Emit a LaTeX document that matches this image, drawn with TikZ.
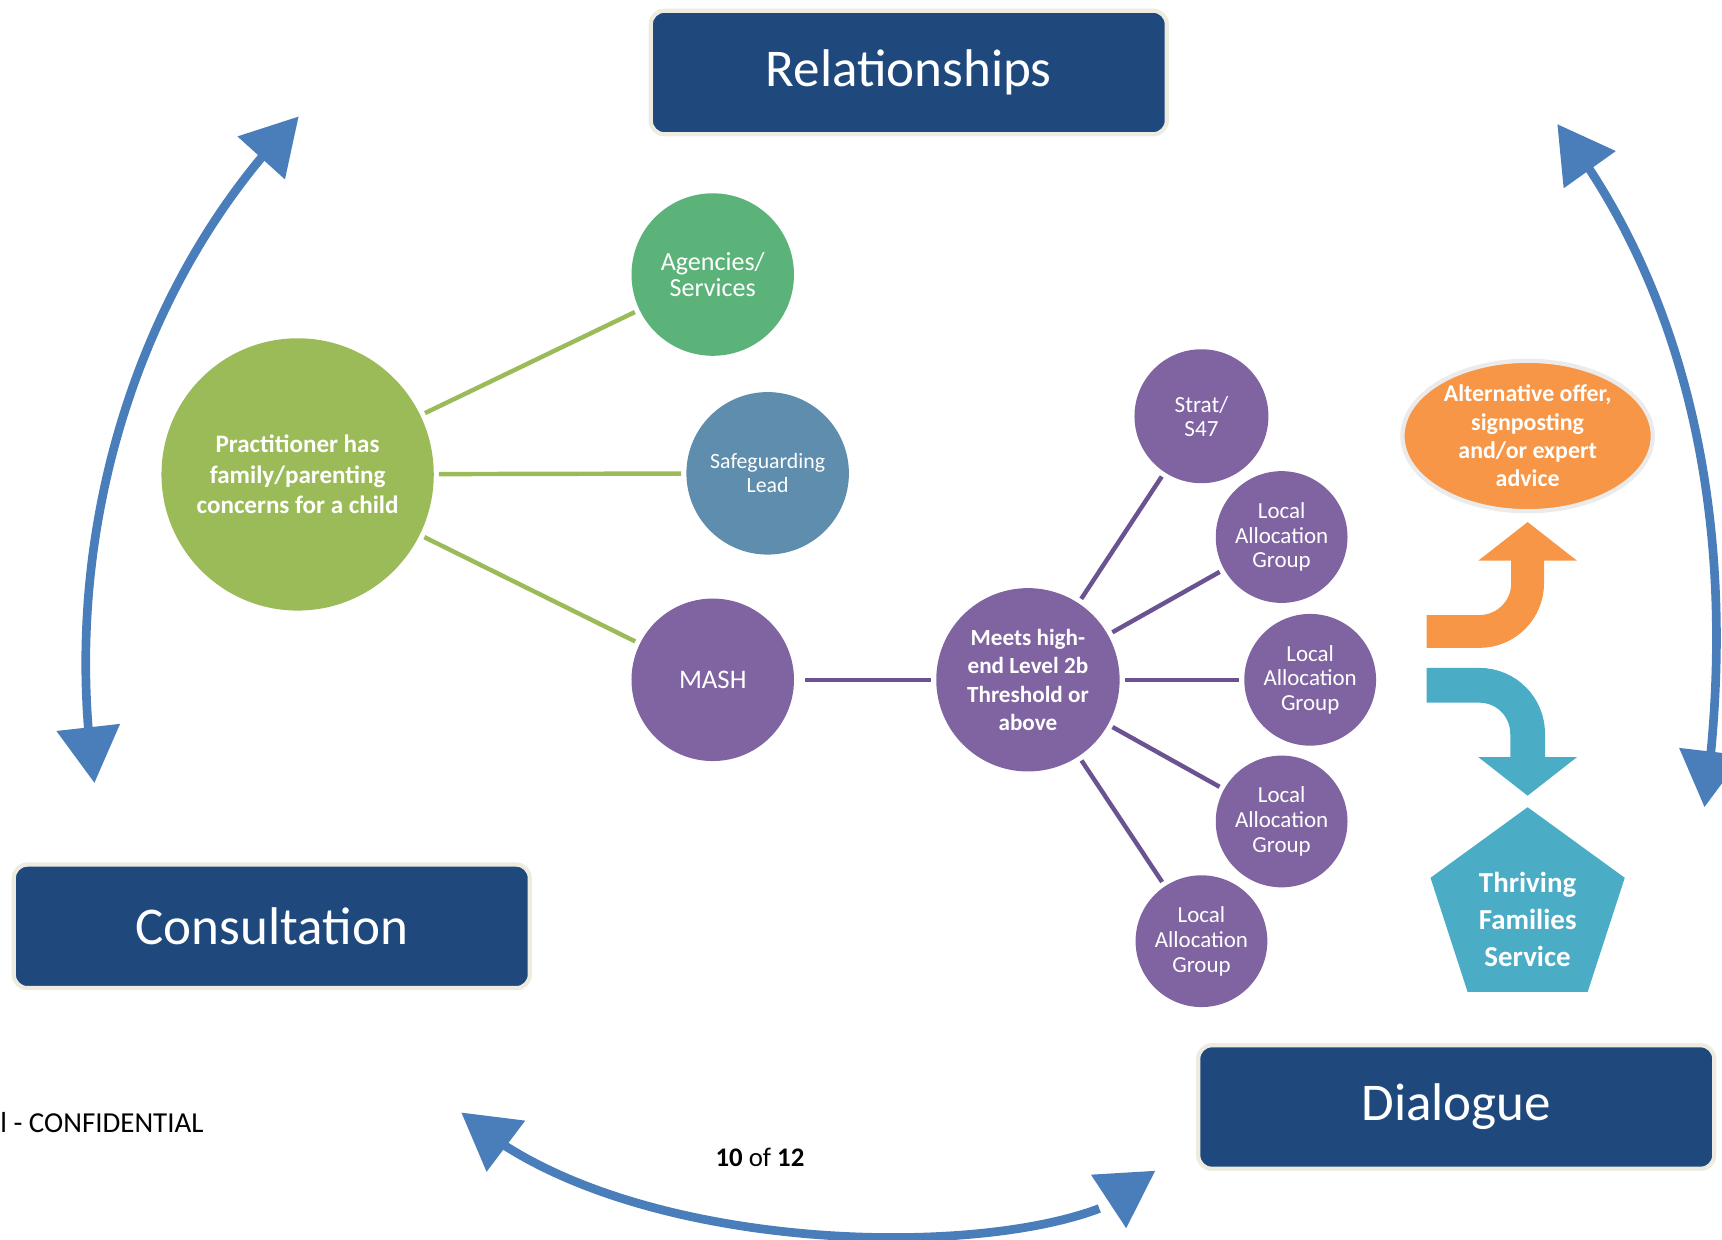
\documentclass[tikz,border=0pt]{standalone}
\usepackage{fontspec}
\setmainfont{Carlito}
\usetikzlibrary{arrows.meta,bending,shapes.geometric}

\definecolor{boxblue}{HTML}{1F497D}
\definecolor{boxrim}{HTML}{EEECE1}
\definecolor{leafgreen}{HTML}{9BBB59}
\definecolor{seagreen}{HTML}{5BB37A}
\definecolor{steel}{HTML}{5F8DAE}
\definecolor{grape}{HTML}{8064A2}
\definecolor{grapeline}{HTML}{6B5290}
\definecolor{tangerine}{HTML}{F79646}
\definecolor{aqua}{HTML}{4BACC6}
\definecolor{cycleblue}{HTML}{4A7EBB}

\begin{document}
\begin{tikzpicture}[x=0.02cm,y=-0.02cm,
	headbox/.style={draw=boxrim,line width=2.2pt,fill=boxblue,rounded corners=7pt,text=white,
		font=\fontsize{27.5}{33}\selectfont,minimum width=9.4cm,minimum height=2.25cm},
	bubble/.style={circle,inner sep=0pt,text=white,align=center},
	lag/.style={bubble,fill=grape,minimum size=2.4cm,font=\fontsize{11.9}{12.8}\selectfont},
	twig/.style={leafgreen,line width=2.3pt,shorten <=2.5pt,shorten >=2.5pt},
	spoke/.style={grapeline,line width=2.3pt,shorten <=2.5pt,shorten >=2.5pt},
	loopline/.style={cycleblue,line width=4.5pt,
		arrows={Triangle[width=32pt,length=29pt]-Triangle[width=32pt,length=29pt]}},
	turnarrow/.style={line width=#1,rounded corners=25pt,-{Triangle[width=50pt,length=20pt]}}]
\useasboundingbox (0,0) rectangle (1568,1129);

\node[headbox] (relbox) at (827.5,66) {Relationships};
\node[headbox] (conbox) at (247.5,843.5) {Consultation};
\node[headbox] (dialbox) at (1326,1008) {Dialogue};

\node[bubble,fill=leafgreen,minimum size=4.96cm,font=\fontsize{13}{15.9}\selectfont\bfseries]
	(carer) at (271,432) {Practitioner has\\family/parenting\\concerns for a child};
\node[bubble,fill=seagreen,minimum size=2.96cm,font=\fontsize{13.5}{13.8}\selectfont]
	(agency) at (649,250) {Agencies/\\Services};
\node[bubble,fill=steel,minimum size=2.96cm,font=\fontsize{11.3}{12.5}\selectfont]
	(safe) at (699,431) {Safeguarding\\Lead};
\node[bubble,fill=grape,minimum size=2.96cm,font=\fontsize{13.9}{15}\selectfont]
	(mash) at (649,619) {MASH};
\node[bubble,fill=grape,minimum size=3.34cm,font=\fontsize{12}{14.7}\selectfont\bfseries]
	(meets) at (936,619) {Meets high-\\end Level 2b\\Threshold or\\above};
\node[bubble,fill=grape,minimum size=2.44cm,font=\fontsize{12}{12.5}\selectfont]
	(strat) at (1094,379) {Strat/\\S47};
\foreach \n/\x/\y in {1/1167/489,2/1193/619,3/1167/748,4/1094/857}
	\node[lag] (lag\n) at (\x,\y) {Local\\Allocation\\Group};

\node[ellipse,inner sep=0pt,fill=tangerine,draw=white!92!black,line width=2.2pt,
	minimum width=4.56cm,minimum height=2.74cm,text=white,align=center,
	font=\fontsize{12.4}{14.7}\selectfont\bfseries]
	(altoffer) at (1391,397) {Alternative offer,\\signposting\\and/or expert\\advice};
\node[regular polygon,regular polygon sides=5,inner sep=0pt,minimum size=3.72cm,fill=aqua]
	(tfs) at (1391,828) {};
\node[text=white,align=center,font=\fontsize{15}{19.2}\selectfont\bfseries]
	(tfsname) at (1391,837) {Thriving\\Families\\Service};

\foreach \n in {agency,safe,mash}
	\draw[twig] (carer) -- (\n);
\draw[spoke,shorten <=5.5pt] (mash) -- (meets);
\foreach \n in {strat,lag1,lag2,lag3,lag4}
	\draw[spoke] (meets) -- (\n);

\coordinate (upsplit) at (1299,575);
\coordinate (downsplit) at (1299,624);
\draw[turnarrow=17pt,tangerine,shorten >=4.5pt] (upsplit) -| (altoffer.south);
\draw[turnarrow=18pt,aqua,shorten >=5.7pt] (downsplit) -| (tfs.corner 1);

\coordinate (lefttop) at (272,106);
\coordinate (leftbot) at (86,713);
\coordinate (righttop) at (1418,113);
\coordinate (rightbot) at (1552,735);
\coordinate (botleft) at (420,1013);
\coordinate (botright) at (1052,1066);
\draw[loopline] (leftbot) .. controls (52,480) and (130,250) .. (lefttop);
\draw[loopline] (righttop) .. controls (1525,250) and (1590,460) .. (rightbot);
\draw[loopline] (botleft) .. controls (580,1160) and (1000,1150) .. (botright);

\node[anchor=west,inner sep=0pt,font=\fontsize{15}{18}\selectfont] (classmark) at (0,1022) {l - CONFIDENTIAL};
\node[font=\fontsize{13.9}{16}\selectfont] (pageno) at (692,1054) {\textbf{10} of \textbf{12}};
\end{tikzpicture}
\end{document}
